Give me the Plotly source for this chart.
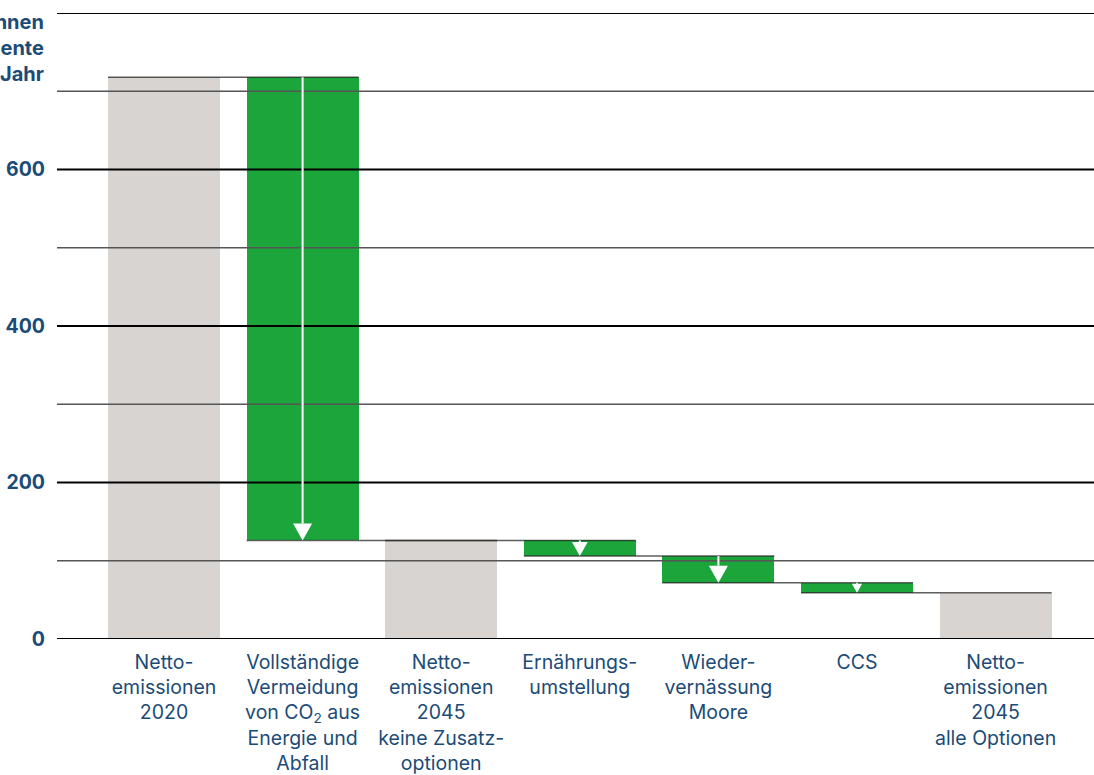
import plotly.graph_objects as go

# ---- data ----
labels = [
    "Netto-<br>emissionen<br>2020",
    "Vollständige<br>Vermeidung<br>von CO<sub>2</sub> aus<br>Energie und<br>Abfall",
    "Netto-<br>emissionen<br>2045<br>keine Zusatz-<br>optionen",
    "Ernährungs-<br>umstellung",
    "Wieder-<br>vernässung<br>Moore",
    "CCS",
    "Netto-<br>emissionen<br>2045<br>alle Optionen",
]
kinds = ["total", "delta", "total", "delta", "delta", "delta", "total"]
values = [718, -592, 126, -20, -34, -13, 59]
y_ticks = [0, 200, 400, 600]
grid_values = [0, 100, 200, 300, 400, 500, 600, 700, 800]

# ---- styling / geometry ----
W, H = 1094, 775
ML, MR, MT, MB = 57, 0, 13, 136
XR = [-0.772, 6.710]
YR = [0, 800]
px_per_x = (W - ML - MR) / (XR[1] - XR[0])
px_per_y = (H - MT - MB) / (YR[1] - YR[0])
BAR_W = 0.808
GRAY = "#d8d4d2"
GREEN = "#1ca53b"
BLUE = "#1b4b77"
FONT = "Inter, Roboto, sans-serif"
FS = 19.5

# running levels
bases, heights, colors = [], [], []
level = 0
for k, v in zip(kinds, values):
    if k == "total":
        bases.append(0)
        heights.append(v)
        colors.append(GRAY)
        level = v
    else:
        new = level + v
        bases.append(new)
        heights.append(level - new)
        colors.append(GREEN)
        level = new

x_idx = list(range(len(labels)))

fig = go.Figure()
fig.add_trace(go.Bar(
    x=x_idx, y=heights, base=bases, width=BAR_W,
    marker=dict(color=colors, line=dict(width=0)),
    hoverinfo="skip", showlegend=False,
))

shapes = []
# gridlines (drawn above bars)
for g in grid_values:
    even = (g % 200 == 0)
    shapes.append(dict(
        type="line", xref="paper", yref="y", x0=0, x1=1, y0=g, y1=g,
        line=dict(color="#000000" if even else "#555555", width=2 if even else 1.3),
        layer="above",
    ))

# connectors: end level of each bar from bar i left to bar i+1 right
ends = []
for i, k in enumerate(kinds):
    ends.append(bases[i] if k == "delta" else heights[i])
for i in range(len(labels) - 1):
    lvl = ends[i]
    shapes.append(dict(
        type="line", xref="x", yref="y",
        x0=i - BAR_W / 2, x1=i + 1 + BAR_W / 2, y0=lvl, y1=lvl,
        line=dict(color="rgba(40,40,40,0.75)", width=1.5), layer="above",
    ))

# arrows in green bars
for i, k in enumerate(kinds):
    if k != "delta":
        continue
    top = bases[i] + heights[i]
    bot = bases[i]
    h_px = heights[i] * px_per_y
    th_px = min(17.0, h_px * 0.9)
    tw_px = th_px * 1.12
    th = th_px / px_per_y
    tw = tw_px / px_per_x
    tri_top = bot + th
    if top - tri_top > 0.5:
        shapes.append(dict(
            type="line", xref="x", yref="y", x0=i, x1=i, y0=top, y1=tri_top,
            line=dict(color="white", width=2), layer="above",
        ))
    shapes.append(dict(
        type="path", xref="x", yref="y",
        path=f"M {i - tw/2} {tri_top} L {i + tw/2} {tri_top} L {i} {bot} Z",
        fillcolor="white", line=dict(width=0), layer="above",
    ))

fig.update_layout(
    width=W, height=H,
    margin=dict(l=ML, r=MR, t=MT, b=MB, pad=0),
    paper_bgcolor="white", plot_bgcolor="white",
    bargap=0,
    shapes=shapes,
    font=dict(family=FONT, color=BLUE),
    xaxis=dict(
        range=XR, tickmode="array", tickvals=x_idx, ticktext=labels,
        tickfont=dict(family=FONT, size=FS, color=BLUE),
        showgrid=False, zeroline=False, showline=False, ticks="",
        ticklabelstandoff=9, fixedrange=True,
    ),
    yaxis=dict(
        range=YR, tickmode="array", tickvals=y_ticks,
        ticktext=[str(v) for v in y_ticks],
        tickfont=dict(family=FONT, size=FS, color=BLUE, weight="bold"),
        showgrid=False, zeroline=False, showline=False, ticks="",
        ticklabelstandoff=11, fixedrange=True,
    ),
    annotations=[dict(
        xref="paper", yref="paper", x=0, y=1, xshift=-11, yshift=5,
        xanchor="right", yanchor="top", align="right", showarrow=False,
        text="<b>Mio. Tonnen<br>CO<sub>2</sub>-Äquivalente<br>pro Jahr</b>",
        font=dict(family=FONT, size=20, color=BLUE),
    )],
)

fig.write_html("out.html")
